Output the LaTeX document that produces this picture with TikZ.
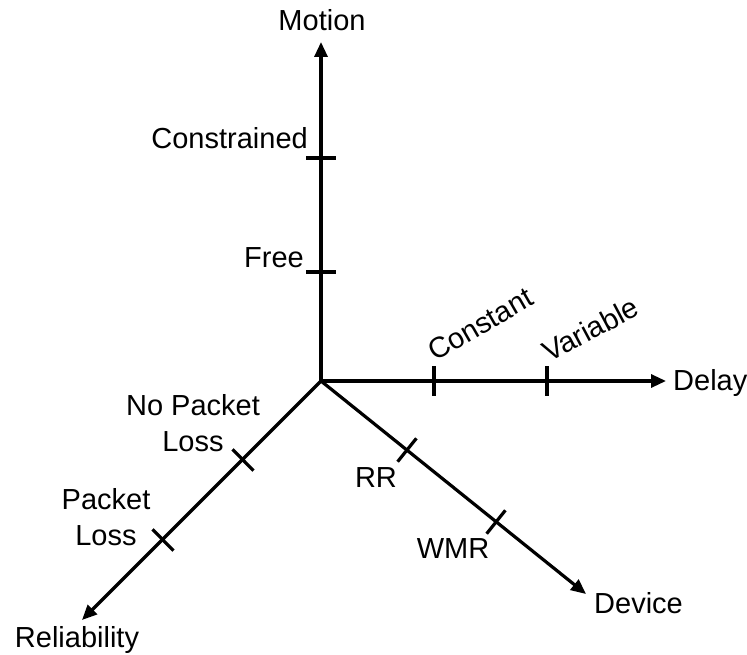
\documentclass[tikz,border=0pt]{standalone}
\usepackage{fontspec}
\setmainfont{Liberation Sans}
\usetikzlibrary{arrows.meta,calc}
\begin{document}
\begin{tikzpicture}[x=1pt,y=-1pt,
  axis/.style={line width=3.2pt,-{Triangle[length=15pt,width=13pt]}},
  tickmark/.style={line width=3.2pt},
  lbl/.style={inner sep=0pt,font=\fontsize{29}{36}\selectfont},
  twoline/.style={lbl,align=center}]
\useasboundingbox (0,0) rectangle (747,655);

% origin and axis ends
\coordinate (O) at (321,381);
\coordinate (motionTip) at (321,42);
\coordinate (delayTip) at (666,381);
\coordinate (deviceTip) at (586,594);
\coordinate (relTip) at (82,620);

% axes
\draw[axis] (O) -- (motionTip);
\draw[axis] (O) -- (delayTip);
\draw[axis] (O) -- (deviceTip);
\draw[axis] (O) -- (relTip);

% tick positions along the axes
\coordinate (tC) at (321,158);
\coordinate (tF) at (321,272);
\coordinate (tK) at (434,381);
\coordinate (tV) at (547,381);
\coordinate (tRR) at (407,450);
\coordinate (tW) at (496,522);
\coordinate (tN) at (243,460);
\coordinate (tP) at (163,540);

% tick marks, perpendicular to their axis
\foreach \t/\a in {tC/motionTip,tF/motionTip,tK/delayTip,tV/delayTip,
                   tRR/deviceTip,tW/deviceTip,tN/relTip,tP/relTip}{
  \draw[tickmark] ($(\t)!15pt!90:(\a)$) -- ($(\t)!15pt!-90:(\a)$);
}

% axis names
\node[lbl,anchor=base] (motion) at (322,31) {Motion};
\node[lbl,anchor=base west] (delay) at (673,390) {Delay};
\node[lbl,anchor=base west] (device) at (594,613) {Device};
\node[lbl,anchor=base] (reliability) at (77,647) {Reliability};

% levels on each axis
\node[lbl,anchor=base east] (constrained) at (308,149) {Constrained};
\node[lbl,anchor=base east] (free) at (304,267) {Free};
\node[lbl,anchor=base west,rotate=30] (constant) at (435,362) {Constant};
\node[lbl,anchor=base west,rotate=28] (variable) at (549,363) {Variable};
\node[lbl,anchor=base] (rr) at (376,487) {RR};
\node[lbl,anchor=base] (wmr) at (453,558) {WMR};
\node[twoline] (nopl) at (193,423) {No Packet\\Loss};
\node[twoline] (pl) at (106,517) {Packet\\Loss};
\end{tikzpicture}
\end{document}
